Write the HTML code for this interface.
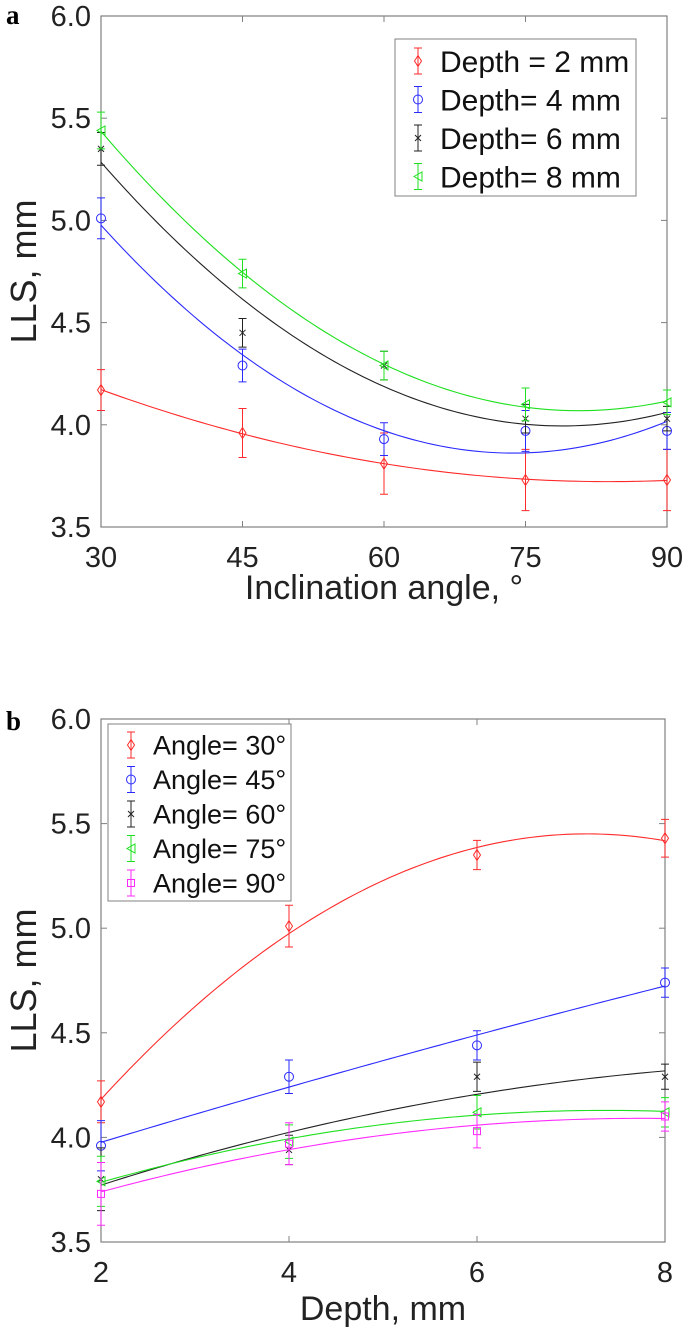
<!DOCTYPE html>
<html><head><meta charset="utf-8"><style>
body{margin:0;background:#fff;}
svg text{font-family:"Liberation Sans",Arial,sans-serif;}
</style></head><body>
<svg id="svg" width="685" height="1334" viewBox="0 0 685 1334" xmlns="http://www.w3.org/2000/svg">
<text x="6" y="24" style="font-family:'Liberation Serif',serif;font-weight:bold;font-size:27px">a</text>
<text x="6" y="730" style="font-family:'Liberation Serif',serif;font-weight:bold;font-size:27px">b</text>
<g id="ga"></g>
<g id="gb"></g>
</svg>
<script>
// Panel a data
const aX = [30,45,60,75,90];
const aXTicks = [30,45,60,75,90];
const aYTicks = [3.5,4.0,4.5,5.0,5.5,6.0];
const aLabels = ["Depth = 2 mm","Depth= 4 mm","Depth= 6 mm","Depth= 8 mm"];
const aD2 = [4.17,3.96,3.81,3.73,3.73];
const aD2Err = [0.10,0.12,0.15,0.15,0.15];
const aD4 = [5.01,4.29,3.93,3.97,3.97];
const aD4Err = [0.10,0.08,0.08,0.10,0.09];
const aD6 = [5.35,4.45,4.29,4.03,4.03];
const aD6Err = [0.08,0.07,0.07,0.07,0.06];
const aD8 = [5.44,4.74,4.29,4.10,4.11];
const aD8Err = [0.09,0.07,0.07,0.08,0.06];
// Panel b data
const bX = [2,4,6,8];
const bXTicks = [2,4,6,8];
const bYTicks = [3.5,4.0,4.5,5.0,5.5,6.0];
const bLabels = ["Angle= 30°","Angle= 45°","Angle= 60°","Angle= 75°","Angle= 90°"];
const b30 = [4.17,5.01,5.35,5.43];
const b30Err = [0.10,0.10,0.07,0.09];
const b45 = [3.96,4.29,4.44,4.74];
const b45Err = [0.12,0.08,0.07,0.07];
const b60 = [3.80,3.94,4.29,4.29];
const b60Err = [0.15,0.07,0.07,0.06];
const b75 = [3.79,3.98,4.12,4.12];
const b75Err = [0.12,0.08,0.08,0.07];
const b90 = [3.73,3.97,4.03,4.10];
const b90Err = [0.15,0.10,0.08,0.07];

const NS="http://www.w3.org/2000/svg";
function mk(parent,tag,attrs){const e=document.createElementNS(NS,tag);for(const k in attrs)e.setAttribute(k,attrs[k]);parent.appendChild(e);return e;}
function polyfit2(xs,ys){
  let n=xs.length,S=[0,0,0,0,0],T=[0,0,0];
  for(let i=0;i<n;i++){let p=1;for(let k=0;k<5;k++){S[k]+=p;if(k<3)T[k]+=p*ys[i];p*=xs[i];}}
  const M=[[S[0],S[1],S[2],T[0]],[S[1],S[2],S[3],T[1]],[S[2],S[3],S[4],T[2]]];
  for(let i=0;i<3;i++){for(let j=i+1;j<3;j++){const f=M[j][i]/M[i][i];for(let k=i;k<4;k++)M[j][k]-=f*M[i][k];}}
  const c=[0,0,0];for(let i=2;i>=0;i--){let s=M[i][3];for(let k=i+1;k<3;k++)s-=M[i][k]*c[k];c[i]=s/M[i][i];}
  return x=>c[0]+c[1]*x+c[2]*x*x;
}
function marker(g,type,cx,cy,col){
  const r=4.5;let e;
  if(type==='diamond')e=mk(g,'polygon',{points:`${cx},${cy-r-1} ${cx+r-1},${cy} ${cx},${cy+r+1} ${cx-r+1},${cy}`,fill:'none',stroke:col,'stroke-width':1});
  else if(type==='circle')e=mk(g,'circle',{cx:cx,cy:cy,r:r,fill:'none',stroke:col,'stroke-width':1});
  else if(type==='x')e=mk(g,'path',{d:`M${cx-3},${cy-3}L${cx+3},${cy+3}M${cx-3},${cy+3}L${cx+3},${cy-3}`,stroke:col,'stroke-width':1});
  else if(type==='tri')e=mk(g,'polygon',{points:`${cx-4},${cy} ${cx+4},${cy-4.5} ${cx+4},${cy+4.5}`,fill:'none',stroke:col,'stroke-width':1});
  else e=mk(g,'rect',{x:cx-3.5,y:cy-3.5,width:7,height:7,fill:'none',stroke:col,'stroke-width':1});
  return e;
}
function chart(g,cfg){
  const X=v=>cfg.L+(v-cfg.x0)/(cfg.x1-cfg.x0)*(cfg.R-cfg.L);
  const Y=v=>cfg.B-(v-cfg.y0)/(cfg.y1-cfg.y0)*(cfg.B-cfg.T);
  const ax=mk(g,'g',{});
  
  
  mk(ax,'rect',{x:cfg.L,y:cfg.T,width:cfg.R-cfg.L,height:cfg.B-cfg.T,fill:'none',stroke:'#808080','stroke-width':1.2});
  cfg.xt.forEach(v=>{
    mk(ax,'line',{x1:X(v),x2:X(v),y1:cfg.B,y2:cfg.B-6,stroke:'#808080'});
    mk(ax,'line',{x1:X(v),x2:X(v),y1:cfg.T,y2:cfg.T+6,stroke:'#808080'});
    const t=mk(ax,'text',{x:X(v),y:cfg.B+40,'text-anchor':'middle','font-size':29,fill:'#222'});t.textContent=v;
    
    
  });
  cfg.yt.forEach(v=>{
    mk(ax,'line',{x1:cfg.L,x2:cfg.L+6,y1:Y(v),y2:Y(v),stroke:'#808080'});
    mk(ax,'line',{x1:cfg.R,x2:cfg.R-6,y1:Y(v),y2:Y(v),stroke:'#808080'});
    const t=mk(ax,'text',{x:cfg.L-10,y:Y(v)+10,'text-anchor':'end','font-size':29,fill:'#222'});t.textContent=v.toFixed(1);
    
    
  });
  const xl=mk(g,'text',{x:(cfg.L+cfg.R)/2,y:cfg.B+cfg.xlOff,'text-anchor':'middle','font-size':34,fill:'#222'});xl.textContent=cfg.xlabel;
  
  
  const yc=(cfg.T+cfg.B)/2;
  const yl=mk(g,'text',{x:0,y:0,'text-anchor':'middle','font-size':36,fill:'#222',transform:`translate(36,${yc}) rotate(-90)`});yl.textContent='LLS, mm';
  
  
  cfg.series.forEach((s,si)=>{
    const sg=mk(g,'g',{});
    
    
    const f=polyfit2(cfg.xs,s.y);
    let d='';const n=80;
    for(let i=0;i<=n;i++){const xv=cfg.x0+(cfg.x1-cfg.x0)*i/n;d+=(i?'L':'M')+X(xv).toFixed(2)+','+Y(f(xv)).toFixed(2);}
    const fl=mk(sg,'path',{d:d,fill:'none',stroke:s.c,'stroke-width':1.1});
    
    
    cfg.xs.forEach((xv,i)=>{
      const cx=X(xv),y1=Y(s.y[i]+s.e[i]),y2=Y(s.y[i]-s.e[i]);
      const eb=mk(sg,'path',{d:`M${cx},${y1}L${cx},${y2}M${cx-4},${y1}L${cx+4},${y1}M${cx-4},${y2}L${cx+4},${y2}`,stroke:s.c,'stroke-width':1});
      
      
      const m=marker(sg,s.m,cx,Y(s.y[i]),s.c);
      
      
    });
  });
  const lg=mk(g,'g',{});
  
  
  const Lg=cfg.leg;
  mk(lg,'rect',{x:Lg.x,y:Lg.y,width:Lg.w,height:Lg.h,fill:'#fff',stroke:'#808080','stroke-width':1});
  cfg.series.forEach((s,i)=>{
    const cy=Lg.y+Lg.first+i*Lg.step;
    const en=mk(lg,'g',{});
    
    
    mk(en,'path',{d:`M${Lg.mx},${cy-13}L${Lg.mx},${cy+13}M${Lg.mx-4},${cy-13}L${Lg.mx+4},${cy-13}M${Lg.mx-4},${cy+13}L${Lg.mx+4},${cy+13}`,stroke:s.c,'stroke-width':1});
    marker(en,s.m,Lg.mx,cy,s.c);
    const t=mk(en,'text',{x:Lg.tx,y:cy+Lg.fs*0.36,'font-size':Lg.fs,fill:'#111'});t.textContent=s.label;
  });
}
chart(document.getElementById('ga'),{L:101,R:667,T:16,B:527,x0:30,x1:90,y0:3.5,y1:6.0,xt:aXTicks,yt:aYTicks,xs:aX,
  xlabel:'Inclination angle, °',xlOff:72,
  series:[{y:aD2,e:aD2Err,c:'#ff2a2a',m:'diamond',label:aLabels[0]},{y:aD4,e:aD4Err,c:'#2a2aff',m:'circle',label:aLabels[1]},
          {y:aD6,e:aD6Err,c:'#222',m:'x',label:aLabels[2]},{y:aD8,e:aD8Err,c:'#1ee01e',m:'tri',label:aLabels[3]}],
  leg:{x:395,y:39,w:241,h:157,first:22,step:38.5,mx:418,tx:440,fs:30}});
chart(document.getElementById('gb'),{L:101,R:665,T:719,B:1242,x0:2,x1:8,y0:3.5,y1:6.0,xt:bXTicks,yt:bYTicks,xs:bX,
  xlabel:'Depth, mm',xlOff:78,
  series:[{y:b30,e:b30Err,c:'#ff2a2a',m:'diamond',label:bLabels[0]},{y:b45,e:b45Err,c:'#2a2aff',m:'circle',label:bLabels[1]},
          {y:b60,e:b60Err,c:'#222',m:'x',label:bLabels[2]},{y:b75,e:b75Err,c:'#1ee01e',m:'tri',label:bLabels[3]},
          {y:b90,e:b90Err,c:'#ff2aff',m:'square',label:bLabels[4]}],
  leg:{x:108,y:724,w:183,h:177,first:21,step:34.5,mx:131,tx:153,fs:27}});
</script>
</body></html>
